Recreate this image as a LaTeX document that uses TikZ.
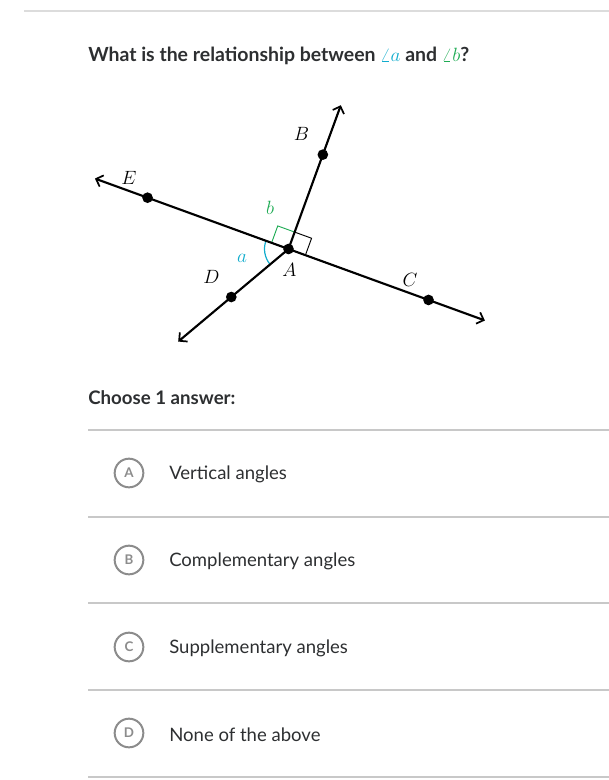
\documentclass[tikz,border=0pt]{standalone}
\usepackage{fontspec}
\setmainfont{Lato}
\usetikzlibrary{arrows.meta,calc}
\definecolor{txt}{HTML}{2D2F31}
\definecolor{kblue}{HTML}{11ACCD}
\definecolor{kgreen}{HTML}{1FAB54}
\definecolor{sep}{HTML}{C8C8C8}
\definecolor{topsep}{HTML}{DCDCDC}
\definecolor{circ}{HTML}{8C8C8C}
\tikzset{
  ray/.style={line width=1.6pt, -{Straight Barb[length=4.5pt,width=9pt,line width=1.3pt]}},
  dot/.style={circle, fill=black, inner sep=0pt, minimum size=8pt},
  lbl/.style={font=\fontsize{15}{17}\selectfont, inner sep=0pt},
  sepline/.style={draw=sep, line width=1.1pt},
  choice/.style={circle, draw=circ, line width=1.5pt, minimum size=21.5pt, inner sep=0pt, text=circ, font=\fontsize{10}{12}\selectfont\bfseries},
  anstext/.style={anchor=west, text=txt, font=\fontsize{13.9}{16}\selectfont, inner sep=0pt},
}
\begin{document}
\begin{tikzpicture}[x=0.75pt, y=-0.75pt]
\useasboundingbox (0,0) rectangle (609,780);
% top line
\coordinate (t1) at (24,11); \coordinate (t2) at (609,11);
\draw[draw=topsep, line width=1.5pt] (t1) -- (t2);
% title
\node[anchor=west, inner sep=0pt, text=txt, font=\fontsize{14.6}{17}\selectfont\bfseries] (title) at (88,56)
  {What is the relationship between \textcolor{kblue}{$\angle a$} and \textcolor{kgreen}{$\angle b$}?};
% geometry
\coordinate (A) at (288.5,249);
\coordinate (Ctip) at ($(A)+(20:209)$);
\coordinate (Etip) at ($(A)+(200:206)$);
\coordinate (Btip) at ($(A)+(-70:153)$);
\coordinate (Dtip) at ($(A)+(140:144)$);
% right angle markers
\draw[line width=0.7pt] ($(A)+(20:18)$) -- ($(A)+(20:18)+(-70:18)$) -- ($(A)+(-70:18)$);
\draw[kgreen, line width=0.7pt] ($(A)+(200:18)$) -- ($(A)+(200:18)+(-70:18)$) -- ($(A)+(-70:18)$);
% angle a arc
\draw[kblue, line width=0.9pt] ($(A)+(140:24)$) arc[start angle=140, end angle=200, radius=24];
% lines
\draw[ray] (A) -- (Ctip);
\draw[ray] (A) -- (Etip);
\draw[ray] (A) -- (Btip);
\draw[ray] (A) -- (Dtip);
% points
\node[dot] (pA) at (A) {};
\node[dot] (pB) at ($(A)+(-70:100.4)$) {};
\node[dot] (pC) at ($(A)+(20:149)$) {};
\node[dot] (pD) at ($(A)+(140:74.7)$) {};
\node[dot] (pE) at ($(A)+(200:150)$) {};
% labels
\node[lbl] (lB) at (301.5,134) {$B$};
\node[lbl] (lE) at (129,177.5) {$E$};
\node[lbl] (lC) at (410,280) {$C$};
\node[lbl] (lD) at (211.5,276.5) {$D$};
\node[lbl] (lA) at (289.5,270) {$A$};
\node[lbl, text=kblue] (la) at (242,258) {$a$};
\node[lbl, text=kgreen] (lb) at (270,208) {$b$};
% choose
\node[anchor=west, inner sep=0pt, text=txt, font=\fontsize{14}{16}\selectfont\bfseries] (choose) at (88,398) {Choose 1 answer:};
% separators
\foreach \yy/\nm in {430/s0,517/s1,603/s2,690/s3,777/s4}{
  \coordinate (\nm l) at (88,\yy); \coordinate (\nm r) at (609,\yy);
  \draw[sepline] (\nm l) -- (\nm r);
}
% answers
\node[choice] (cA) at (129,473) {A};
\node[anstext] (tA) at (169,474.5) {Vertical angles};
\node[choice] (cB) at (129,560) {B};
\node[anstext] (tB) at (169,561.5) {Complementary angles};
\node[choice] (cC) at (129,647) {C};
\node[anstext] (tC) at (169,648.5) {Supplementary angles};
\node[choice] (cD) at (129,733) {D};
\node[anstext] (tD) at (169,734.5) {None of the above};
\end{tikzpicture}
\end{document}
